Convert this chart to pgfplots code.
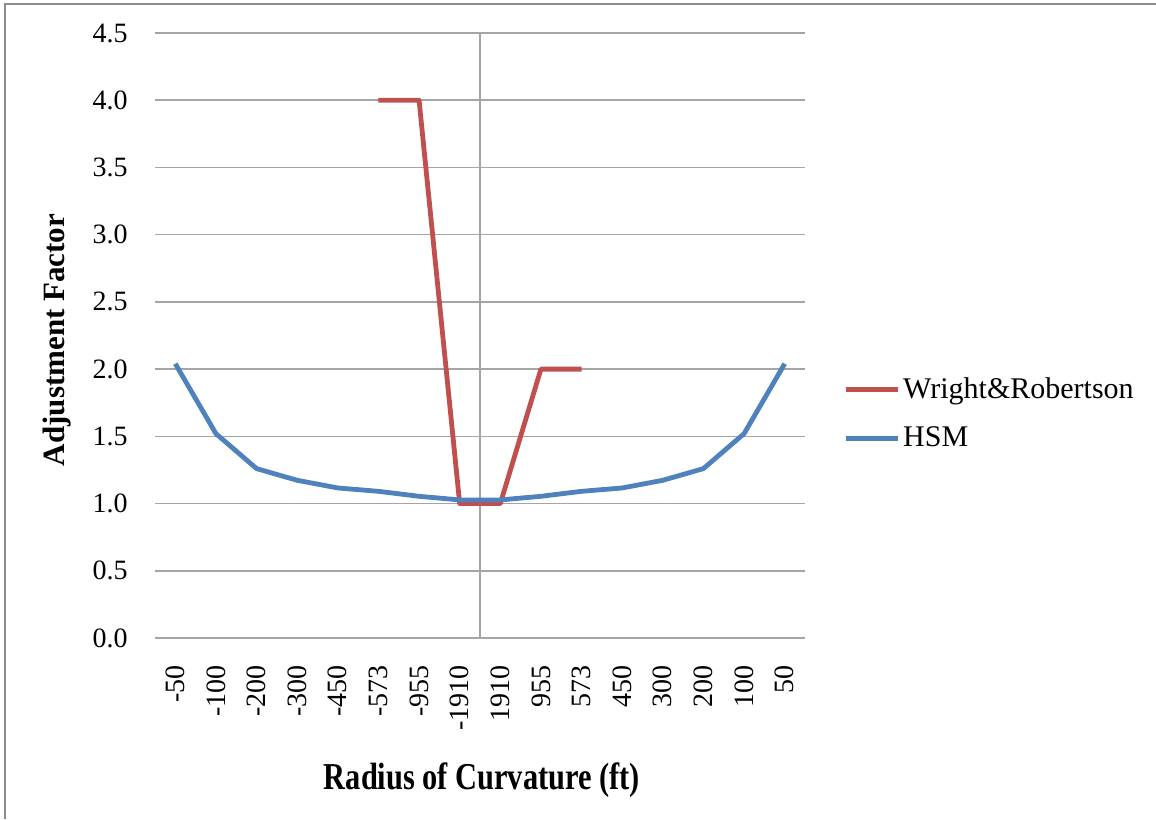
\documentclass[border=0pt]{standalone}
\usepackage{fontspec}
\setmainfont{Liberation Serif}
\usepackage{pgfplots}
\pgfplotsset{compat=1.18}
\definecolor{wrred}{RGB}{192,80,77}
\definecolor{hsmblue}{RGB}{79,129,189}
\definecolor{gridgray}{RGB}{165,165,165}
\begin{document}
\begin{tikzpicture}
\useasboundingbox (0,0) rectangle (578pt,409.5pt);
\draw[color={rgb,255:red,140;green,140;blue,140}, line width=1.2pt] (2.5pt,0) -- (2.5pt,407.5pt) -- (578pt,407.5pt);
\begin{axis}[
  at={(77.5pt,90.5pt)}, anchor=south west,
  scale only axis, width=325pt, height=302.5pt,
  xmin=-0.5, xmax=15.5, ymin=0, ymax=4.5,
  axis line style={draw=none},
  xtick={0,...,15},
  xticklabels={-50,-100,-200,-300,-450,-573,-955,-1910,1910,955,573,450,300,200,100,50},
  ytick={0,0.5,...,4.5},
  major tick length=0pt,
  tick style={draw=none},
  ymajorgrids,
  grid style={gridgray, line width=0.75pt},
  extra x ticks={7.5}, extra x tick labels={},
  extra x tick style={grid=major, grid style={gridgray, line width=0.75pt}},
  /pgf/number format/.cd, fixed, fixed zerofill, precision=1, assume math mode=true,
  /pgfplots/.cd,
  ticklabel style={font=\fontsize{14}{16}\selectfont},
  yticklabel style={anchor=east, inner sep=0pt, xshift=-13.5pt},
  xticklabel style={yshift=-13.5pt, rotate=90, anchor=east, inner sep=0pt},
  xlabel={\scalebox{0.8}[1]{\fontsize{19}{22}\selectfont\bfseries Radius of Curvature (ft)}},
  xlabel style={at={(axis description cs:0.503,-0.2512)}, anchor=base},
  ylabel={\fontsize{15.5}{18}\selectfont\bfseries Adjustment Factor},
  ylabel style={at={(axis description cs:-0.1385,0.4926)}, anchor=base},
  legend style={draw=none, fill=none, at={(axis description cs:1.0585,0.371)}, anchor=west,
    font=\fontsize{15}{18}\selectfont, inner sep=0pt, row sep=10pt,
    nodes={inner sep=1.5pt}},
  legend cell align=left,
  legend image code/.code={\draw[#1, line width=2.4pt] (0pt,0pt) -- (26pt,0pt);},
]
\addplot[wrred, line width=2.4pt, line join=round] coordinates {
  (5,4.0) (6,4.0) (7,1.0) (8,1.0) (9,2.0) (10,2.0)
};
\addlegendentry{Wright\&Robertson}
\addplot[hsmblue, line width=2.4pt, line join=round] coordinates {
  (0,2.04) (1,1.52) (2,1.26) (3,1.173) (4,1.116) (5,1.091) (6,1.054) (7,1.027)
  (8,1.027) (9,1.054) (10,1.091) (11,1.116) (12,1.173) (13,1.26) (14,1.52) (15,2.04)
};
\addlegendentry{HSM}
\end{axis}
\end{tikzpicture}
\end{document}
